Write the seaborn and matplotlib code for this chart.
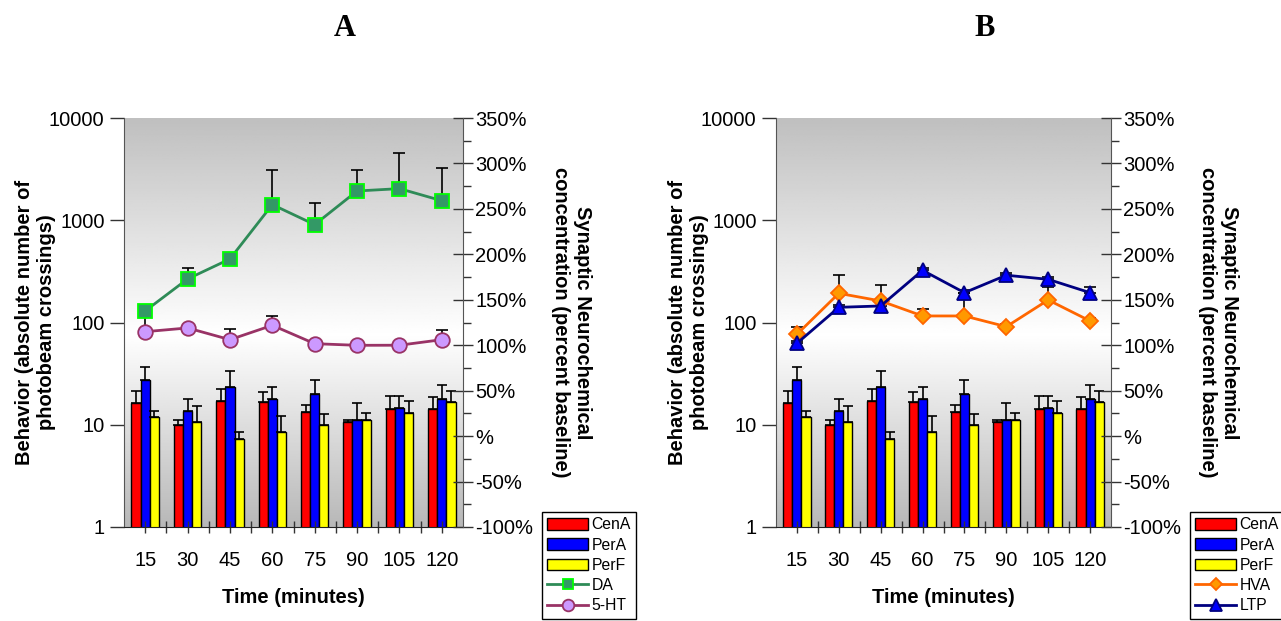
import numpy as np
import pandas as pd
import matplotlib
matplotlib.use("Agg")
import matplotlib.pyplot as plt
import seaborn as sns
from matplotlib.ticker import FixedLocator, NullLocator, MultipleLocator

plt.rcParams['font.family'] = ['Liberation Sans', 'DejaVu Sans']

# time points (minutes)
times = ['15', '30', '45', '60', '75', '90', '105', '120']
regions = ['CenA', 'PerA', 'PerF']

# behaviour (photobeam crossings), mean and upper error
cena = [16.2, 10.0, 17.0, 16.6, 13.4, 10.6, 14.3, 14.3]
cena_err = [5.3, 1.1, 5.2, 4.4, 2.2, 0.5, 4.9, 4.5]
pera = [27.4, 13.7, 23.6, 18.0, 19.8, 11.1, 14.6, 18.0]
pera_err = [9.6, 4.3, 10.2, 5.6, 7.6, 5.1, 4.6, 6.6]
perf = [11.8, 10.6, 7.2, 8.4, 10.0, 11.1, 13.1, 16.6]
perf_err = [1.9, 4.7, 1.2, 3.9, 2.7, 2.0, 3.9, 4.9]

# neurochemistry (% baseline)
da = [137.7, 172.9, 194.9, 254.7, 232.7, 269.7, 272.3, 259.0]
da_err = [3, 12, 4, 38, 23.5, 23, 39.6, 36.4]
ht = [114.9, 119.0, 106.1, 121.9, 101.7, 99.9, 100.0, 106.1]
ht_err = [20, 3, 11.4, 9.9, 2, 2, 2, 11]
hva = [112.0, 157.1, 148.7, 132.2, 132.2, 120.4, 149.8, 126.7]
hva_err = [8.4, 20.5, 17.2, 7.3, 25.6, 3, 14.3, 3]
ltp = [102.1, 141.7, 143.2, 182.4, 157.8, 177.0, 172.5, 157.8]
ltp_err = [3, 3, 3, 3, 3, 3, 3, 6.3]

left_ticks = [1, 10, 100, 1000, 10000]
right_ticks = [-100, -50, 0, 50, 100, 150, 200, 250, 300, 350]
right_labels = ['-100%', '-50%', '%', '50%', '100%', '150%', '200%', '250%', '300%', '350%']

bar_colors = ['#ff0000', '#0000ff', '#ffff00']

behav = pd.DataFrame({
    'time': times * 3,
    'region': [r for r in regions for _ in times],
    'count': cena + pera + perf,
})
bar_errs = [cena_err, pera_err, perf_err]
bar_vals = [cena, pera, perf]

W, H = 1281, 621
fig = plt.figure(figsize=(W / 100, H / 100), dpi=100)

# vertical gray-white-gray gradient behind plot area
tt = np.linspace(1, 0, 256)
grad = np.interp(tt, [0, 0.47, 1], [0.72, 1.0, 0.75])[:, None]


def panel(left, width, letter, letter_x, series, legend_x):
    pos = [left / W, 94 / H, width / W, 409 / H]
    bg = fig.add_axes(pos, zorder=-1)
    bg.imshow(grad, aspect='auto', cmap='gray', vmin=0, vmax=1, extent=[0, 1, 0, 1])
    bg.axis('off')

    ax = fig.add_axes(pos)
    ax.set_facecolor('none')
    sns.barplot(data=behav, x='time', y='count', hue='region', order=times,
                hue_order=regions, palette=bar_colors, saturation=1, width=0.65,
                errorbar=None, edgecolor='black', linewidth=1, legend=False, ax=ax)
    bars = list(ax.containers)
    ax.set_yscale('log')
    for cont, vals, errs in zip(bars, bar_vals, bar_errs):
        xs = [p.get_x() + p.get_width() / 2 for p in cont]
        ax.errorbar(xs, vals, yerr=[np.zeros(len(errs)), errs], fmt='none',
                    ecolor='black', elinewidth=1.2, capsize=3.5, capthick=1.2)
    ax.set_ylim(1, 10000)
    ax.yaxis.set_major_locator(FixedLocator(left_ticks))
    ax.yaxis.set_minor_locator(NullLocator())
    ax.set_yticklabels([str(v) for v in left_ticks])
    ax.set_xlim(-0.5, len(times) - 0.5)
    ax.xaxis.set_minor_locator(FixedLocator(np.arange(len(times) - 1) + 0.5))
    ax.tick_params(axis='y', which='major', direction='out', length=10, width=1,
                   labelsize=14.5, pad=4, color='#333333')
    ax.tick_params(axis='x', which='both', direction='inout', length=8, width=1,
                   labelsize=14.5, pad=13, color='#333333')
    ax.set_xlabel('Time (minutes)', fontsize=14.5, fontweight='bold', labelpad=13)
    ax.set_ylabel('Behavior (absolute number of\nphotobeam crossings)', fontsize=14.5,
                  fontweight='bold', linespacing=1.2)
    ax.yaxis.set_label_coords(-0.2, 0.5)
    for s in ['top', 'right']:
        ax.spines[s].set_visible(False)
    ax.spines['left'].set_color('#555555')
    ax.spines['bottom'].set_color('#222222')

    ax2 = ax.twinx()
    ax2.set_position(pos)
    line_handles = {}
    for name, vals, errs, lc, mk, ms, fc, ec in series:
        n0 = len(ax2.lines)
        sns.pointplot(x=times, y=vals, order=times, errorbar=None, color=lc,
                      markers=mk, linestyles='-', linewidth=2, markersize=ms,
                      markerfacecolor=fc, markeredgecolor=ec, markeredgewidth=1.3,
                      ax=ax2)
        line = ax2.lines[n0]
        ax2.errorbar(line.get_xdata(), vals, yerr=[np.zeros(len(errs)), errs],
                     fmt='none', ecolor='black', elinewidth=1.2, capsize=4,
                     capthick=1.2, zorder=1.5)
        line_handles[name] = line
    if ax2.get_legend() is not None:
        ax2.get_legend().remove()
    ax2.set_ylim(-100, 350)
    ax2.yaxis.set_major_locator(FixedLocator(right_ticks))
    ax2.set_yticklabels(right_labels)
    ax2.yaxis.set_minor_locator(MultipleLocator(25))
    ax2.tick_params(axis='y', which='major', direction='inout', length=14, width=1,
                    labelsize=14.5, pad=2, color='#333333')
    ax2.tick_params(axis='y', which='minor', direction='out', length=6, width=1,
                    color='#333333')
    ax2.set_xlim(-0.5, len(times) - 0.5)
    ax2.set_ylabel('Synaptic Neurochemical\nconcentration (percent baseline)',
                   fontsize=14.5, fontweight='bold', rotation=270, va='bottom',
                   linespacing=1.2)
    ax2.yaxis.set_label_coords(1.26, 0.5)
    for s in ['top', 'left', 'bottom']:
        ax2.spines[s].set_visible(False)
    ax2.spines['right'].set_color('#555555')

    fig.text(letter_x / W, 1 - 29 / H, letter, family='Liberation Serif',
             fontweight='bold', fontsize=22, ha='center', va='center')

    return bars, line_handles, legend_x


def add_legend(bars, line_handles, order, legend_x):
    handles = bars + [line_handles[n] for n in order]
    labels = regions + order
    leg = fig.legend(handles, labels, loc='upper left',
                     bbox_to_anchor=(legend_x / W, 1 - 512 / H), fontsize=11.3,
                     frameon=True, fancybox=False, framealpha=1, edgecolor='black',
                     handlelength=2.6, handleheight=0.75, labelspacing=0.33,
                     borderpad=0.35, handletextpad=0.2, borderaxespad=0,
                     markerscale=0.8)
    leg.get_frame().set_linewidth(1)


# panel A: 5-HT drawn first, DA on top
b, lh, lx = panel(124, 339, 'A', 345,
                  [('5-HT', ht, ht_err, '#993366', 'o', 10.5, '#cc99ff', '#993366'),
                   ('DA', da, da_err, '#2e8b57', 's', 9.5, '#339966', '#00ff00')], 542)
add_legend(b, lh, ['DA', '5-HT'], lx)

# panel B: HVA first, LTP on top
b, lh, lx = panel(776, 335, 'B', 985,
                  [('HVA', hva, hva_err, '#ff6600', 'D', 8, '#ff9900', '#ff6600'),
                   ('LTP', ltp, ltp_err, '#000080', '^', 10.5, '#0000ff', '#000080')], 1190)
add_legend(b, lh, ['HVA', 'LTP'], lx)

fig.savefig('out.png', dpi=100)
